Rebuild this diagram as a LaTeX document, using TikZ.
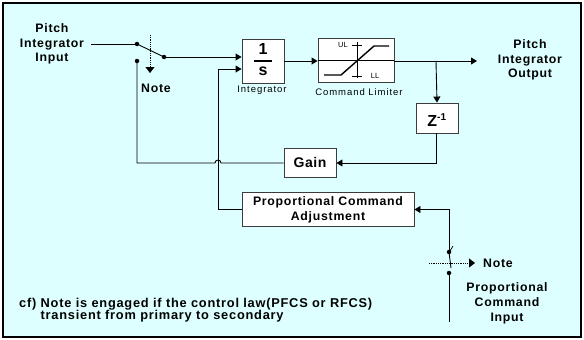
\documentclass[tikz,border=0pt]{standalone}
\usepackage{fontspec}
\setmainfont{Liberation Sans}
\usetikzlibrary{arrows.meta}
\definecolor{bgc}{RGB}{222,255,255}
\definecolor{boxc}{RGB}{60,60,60}
\begin{document}
\begin{tikzpicture}[x=1pt,y=-1pt,
  wire/.style={line width=0.9pt, black},
  arr/.style={wire, -{Triangle[length=6pt,width=7pt]}},
  blk/.style={draw=boxc, line width=0.9pt, fill=white, inner sep=0pt},
  lbl/.style={font=\bfseries\fontsize{12.3}{14.8}\selectfont\addfontfeatures{LetterSpace=6}, align=center, inner sep=0pt},
  small/.style={font=\fontsize{9.5}{10}\selectfont\addfontfeatures{LetterSpace=10}, inner sep=0pt},
  dotc/.style={circle, fill=black, inner sep=0pt, minimum size=4.5pt},
  notearr/.style={densely dotted, line width=0.8pt, -{Triangle[length=6pt,width=9pt]}}
]
\useasboundingbox (0,0) rectangle (584,340);
\fill[white] (0,0) rectangle (584,340);
\draw[line width=2pt, fill=bgc] (3,3) rectangle (581,337);

% input label
\node[lbl] (pin) at (52,44) {Pitch\\Integrator\\Input};
\coordinate (pinEnd) at (91,44);

% switch 1
\node[dotc] (s1a) at (137,44) {};
\node[dotc] (s1b) at (164,57) {};
\node[dotc] (s1c) at (137,61) {};
\coordinate (n1top) at (150,35);
\coordinate (n1bot) at (150,73);
\node[lbl] (note1) at (156,88) {Note};

% blocks
\node[blk, minimum width=42pt, minimum height=44pt] (integ) at (263,61) {};
\node[font=\bfseries\fontsize{16}{16}\selectfont, inner sep=0pt] (one) at (263,49) {1};
\node[font=\bfseries\fontsize{16}{16}\selectfont, inner sep=0pt] (ess) at (263,71) {s};
\draw[line width=1.2pt] (254,61) -- (272,61);
\node[small] (integl) at (262,90) {Integrator};

\node[blk, minimum width=76pt, minimum height=44pt] (lim) at (356,60) {};
\node[small] (liml) at (359,92) {Command Limiter};

\node[blk, minimum width=42pt, minimum height=30pt] (zb) at (437,118) {};
\node[font=\bfseries\fontsize{16}{16}\selectfont, inner sep=0pt] (zt) at (437,120) {Z\textsuperscript{\fontsize{10}{10}\selectfont -1}};

\node[blk, minimum width=52pt, minimum height=29pt, font=\bfseries\fontsize{14}{14}\selectfont\addfontfeatures{LetterSpace=4}] (gain) at (310,162.5) {Gain};

\node[blk, minimum width=172pt, minimum height=34pt, lbl] (prop) at (328,209.5) {Proportional Command\\Adjustment};

% output label
\node[lbl] (pout) at (530,60) {Pitch\\Integrator\\Output};
\coordinate (outEnd) at (477,61);
\coordinate (br) at (436,61);

% limiter graphic
\draw[line width=0.8pt] (lim.west) -- (lim.east);
\draw[line width=0.8pt] (357,42) -- (357,78);
\draw[line width=0.8pt] (352,45) -- (362,45) (352,76) -- (362,76);
\draw[line width=1.4pt] (324,75) -- (341,75) -- (374,46) -- (389,46);
\node[font=\fontsize{7.5}{7.5}\selectfont, inner sep=0pt] (ul) at (343,45) {UL};
\node[font=\fontsize{7.5}{7.5}\selectfont, inner sep=0pt] (ll) at (375,76) {LL};

% switch 1 wiring
\draw[wire] (pinEnd) -- (s1a.center);
\draw[wire] (s1a.center) -- (s1b.center);
\draw[notearr] (n1top) -- (n1bot);
\draw[arr] (s1b.center) -- (s1b.center -| integ.west);
\draw[arr] (integ.east |- 0,61) -- (lim.west |- 0,61);
\draw[arr] (lim.east |- 0,61) -- (outEnd);
\draw[arr] (br) -- (zb.north);
\coordinate (zc) at (436,163);
\draw[arr] (zb.south -| zc) -- (zc) -- (gain.east |- zc);
\coordinate (hopR) at (221,163);
\coordinate (hopL) at (215,163);
\coordinate (fbc) at (137,163);
\draw[wire] (gain.west |- zc) -- (hopR) arc[start angle=0, end angle=180, radius=3pt] -- (fbc) -- (s1c.center);

% proportional path
\coordinate (pc) at (218,209.5);
\coordinate (pin2) at (218,69);
\draw[arr] (prop.west) -- (pc) -- (pin2) -- (pin2 -| integ.west);

% switch 2
\node[dotc] (s2a) at (449,252) {};
\node[dotc] (s2b) at (449,273) {};
\coordinate (s2top) at (449,209.5);
\draw[arr] (s2a.center) -- (s2top) -- (prop.east);
\draw[wire] (s2a.center) -- (451,268);
\draw[line width=0.7pt] (450,251) -- (453,246);
\coordinate (n2l) at (429,263);
\coordinate (n2r) at (475,263);
\draw[notearr] (n2l) -- (n2r);
\node[lbl, anchor=west] (note2) at (483,263.5) {Note};
\coordinate (s2bot) at (449,322);
\draw[wire] (s2b.center) -- (s2bot);
\node[lbl] (pcin) at (507,303.5) {Proportional\\Command\\Input};

% footnote
\node[lbl, anchor=north west, align=left, font=\bfseries\fontsize{12.8}{12}\selectfont\addfontfeatures{LetterSpace=6}] (cf) at (19,298) {cf) Note is engaged if the control law(PFCS or RFCS)\\\phantom{cf) }transient from primary to secondary};
\end{tikzpicture}
\end{document}
